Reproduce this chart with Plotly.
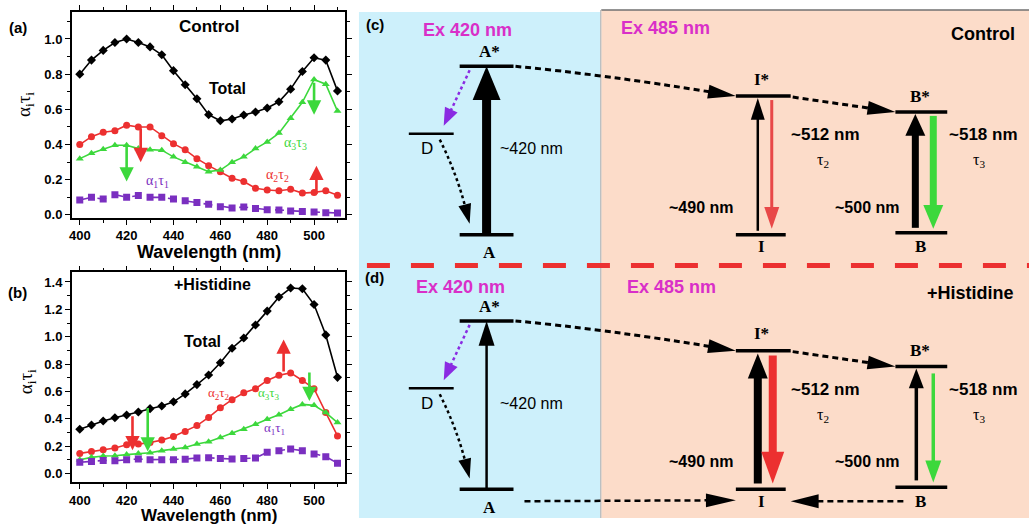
import math
import plotly.graph_objects as go

W, H = 1029, 528

# ---------------- data ----------------
wavelength = [400, 405, 410, 415, 420, 425, 430, 435, 440, 445, 450, 455,
              460, 465, 470, 475, 480, 485, 490, 495, 500, 505, 510]

ctrl_total = [0.80, 0.88, 0.935, 0.98, 1.00, 0.98, 0.955, 0.91, 0.82, 0.74, 0.66, 0.57,
              0.535, 0.545, 0.568, 0.585, 0.608, 0.643, 0.715, 0.815, 0.893, 0.88, 0.705]
ctrl_a2t2 = [0.40, 0.445, 0.47, 0.478, 0.51, 0.50, 0.50, 0.45, 0.405, 0.37, 0.32, 0.28,
             0.245, 0.208, 0.19, 0.152, 0.142, 0.137, 0.146, 0.124, 0.128, 0.137, 0.112]
ctrl_a3t3 = [0.32, 0.35, 0.373, 0.396, 0.396, 0.377, 0.371, 0.368, 0.33, 0.30, 0.274, 0.246,
             0.255, 0.30, 0.33, 0.377, 0.415, 0.465, 0.55, 0.64, 0.77, 0.743, 0.59]
ctrl_a1t1 = [0.085, 0.10, 0.09, 0.115, 0.10, 0.11, 0.10, 0.10, 0.09, 0.08, 0.07, 0.06,
             0.047, 0.04, 0.045, 0.037, 0.03, 0.028, 0.022, 0.02, 0.017, 0.013, 0.011]

his_total = [0.324, 0.355, 0.384, 0.408, 0.428, 0.45, 0.474, 0.493, 0.524, 0.582, 0.65, 0.72,
             0.81, 0.916, 0.99, 1.085, 1.187, 1.29, 1.356, 1.35, 1.235, 1.013, 0.703]
his_a2t2 = [0.147, 0.16, 0.174, 0.186, 0.21, 0.215, 0.227, 0.244, 0.27, 0.307, 0.35, 0.41,
            0.48, 0.54, 0.59, 0.62, 0.68, 0.718, 0.735, 0.68, 0.62, 0.445, 0.275]
his_a3t3 = [0.10, 0.118, 0.128, 0.13, 0.138, 0.147, 0.152, 0.167, 0.18, 0.19, 0.215, 0.232,
            0.263, 0.295, 0.324, 0.36, 0.397, 0.43, 0.47, 0.505, 0.498, 0.445, 0.372]
his_a1t1 = [0.082, 0.087, 0.095, 0.094, 0.101, 0.106, 0.101, 0.101, 0.101, 0.105, 0.114, 0.115,
            0.11, 0.106, 0.11, 0.113, 0.155, 0.167, 0.179, 0.167, 0.143, 0.123, 0.075]

# change arrows on the curves: (wavelength, tail value, head value, colour key)
ctrl_arrows = [(420, 0.40, 0.19, "g"), (426, 0.50, 0.30, "r"),
               (500, 0.76, 0.57, "g"), (501, 0.11, 0.28, "r")]
his_arrows = [(422.5, 0.43, 0.17, "r"), (429, 0.49, 0.16, "g"),
              (487, 0.735, 0.98, "r"), (498, 0.75, 0.53, "g")]

# ---------------- styles ----------------
SANS = "Liberation Sans, Arial, sans-serif"
SERIF = "Liberation Serif, Times New Roman, serif"
BLACK = "#000000"
RED = "#ec3030"
GREEN = "#3cd83c"
PURPLE = "#7a2fc0"
MAGENTA = "#d92fc8"
COL = {"r": RED, "g": GREEN}

fig = go.Figure()

series = [
    ("x", "y", ctrl_total, BLACK, "diamond"),
    ("x", "y", ctrl_a2t2, RED, "circle"),
    ("x", "y", ctrl_a3t3, GREEN, "triangle-up"),
    ("x", "y", ctrl_a1t1, PURPLE, "square"),
    ("x2", "y2", his_total, BLACK, "diamond"),
    ("x2", "y2", his_a2t2, RED, "circle"),
    ("x2", "y2", his_a3t3, GREEN, "triangle-up"),
    ("x2", "y2", his_a1t1, PURPLE, "square"),
]
for xa, ya, vals, col, sym in series:
    fig.add_trace(go.Scatter(
        x=wavelength, y=vals, xaxis=xa, yaxis=ya, mode="lines+markers",
        line=dict(color=col, width=1.6, dash="solid" if sym != "square" else "dash"),
        marker=dict(symbol=sym, size=7, color=col), showlegend=False, hoverinfo="skip"))


def px(x, y):
    return x / W, 1 - y / H


axis_common = dict(
    showline=True, linecolor="black", linewidth=1.5, mirror="allticks",
    ticks="outside", ticklen=5, tickwidth=1.3, tickcolor="black",
    showgrid=False, zeroline=False,
    tickfont=dict(family=SANS, size=13, color="black", weight="bold"),
)
fig.update_layout(
    width=W, height=H, autosize=False,
    margin=dict(l=0, r=0, t=0, b=0),
    paper_bgcolor="white", plot_bgcolor="white",
    xaxis=dict(domain=[69 / W, 343 / W], anchor="y", range=[396.6, 513.2],
               tick0=400, dtick=20, minor=dict(dtick=10, ticklen=3, ticks="outside"), **axis_common),
    yaxis=dict(domain=[1 - 220 / H, 1 - 12 / H], anchor="x", range=[-0.017, 1.154],
               tick0=0, dtick=0.2, tickformat=".1f",
               minor=dict(dtick=0.1, ticklen=3, ticks="outside"), **axis_common),
    xaxis2=dict(domain=[69 / W, 343 / W], anchor="y2", range=[396.6, 513.2],
                tick0=400, dtick=20, minor=dict(dtick=10, ticklen=3, ticks="outside"), **axis_common),
    yaxis2=dict(domain=[1 - 487 / H, 1 - 275 / H], anchor="x2", range=[-0.065, 1.47],
                tick0=0, dtick=0.2, tickformat=".1f",
                minor=dict(dtick=0.1, ticklen=3, ticks="outside"), **axis_common),
)

ann = []
shapes = []


def text(x, y, s, size=16, color="black", bold=True, family=SANS, angle=0, xanchor="center"):
    X, Y = px(x, y)
    ann.append(dict(x=X, y=Y, xref="paper", yref="paper", text=s, showarrow=False,
                    xanchor=xanchor, yanchor="middle", textangle=angle,
                    font=dict(family=family, size=size, color=color,
                              weight="bold" if bold else "normal")))


# ---- left panels text ----
text(15, 28, "(a)", 15)
text(15, 295, "(b)", 15)
text(207, 27, "Control", 17)
text(225, 89, "Total", 16)
text(210, 287, "+Histidine", 16)
text(200, 345, "Total", 16)
text(207, 254, "Wavelength (nm)", 18)
text(207, 520, "Wavelength (nm)", 17)
text(22, 105, "α<sub>i</sub>τ<sub>i</sub>", 19, family=SERIF, bold=False, angle=-90)
text(24, 385, "α<sub>i</sub>τ<sub>i</sub>", 19, family=SERIF, bold=False, angle=-90)
text(293, 145, "α<sub>3</sub>τ<sub>3</sub>", 14, GREEN, False, SERIF)
text(275, 177, "α<sub>2</sub>τ<sub>2</sub>", 14, RED, False, SERIF)
text(155, 183, "α<sub>1</sub>τ<sub>1</sub>", 14, PURPLE, False, SERIF)
text(217, 397, "α<sub>2</sub>τ<sub>2</sub>", 13, RED, False, SERIF)
text(267, 397, "α<sub>3</sub>τ<sub>3</sub>", 13, GREEN, False, SERIF)
text(272, 433, "α<sub>1</sub>τ<sub>1</sub>", 13, PURPLE, False, SERIF)

for arrows, xr, yr in ((ctrl_arrows, "x", "y"), (his_arrows, "x2", "y2")):
    for wl, tail, head, c in arrows:
        ann.append(dict(x=wl, y=head, ax=wl, ay=tail, xref=xr, yref=yr, axref=xr, ayref=yr,
                        showarrow=True, arrowhead=2, arrowsize=1.1, arrowwidth=2.6,
                        arrowcolor=COL[c], text=""))

# ---------------- diagram ----------------
def rect(x0, y0, x1, y1, fill):
    a, b = px(x0, y0)
    c, d = px(x1, y1)
    shapes.append(dict(type="rect", xref="paper", yref="paper", x0=a, y0=d, x1=c, y1=b,
                       fillcolor=fill, line=dict(width=0), layer="below"))


def line(x0, y0, x1, y1, w=3.5, color="black", dash="solid"):
    a, b = px(x0, y0)
    c, d = px(x1, y1)
    shapes.append(dict(type="line", xref="paper", yref="paper", x0=a, y0=b, x1=c, y1=d,
                       line=dict(color=color, width=w, dash=dash)))


def head(x1, y1, ux, uy, hl, hw, color):
    pxx, pyy = -uy, ux
    bx, by = x1 - ux * hl, y1 - uy * hl
    pts = [(x1, y1), (bx + pxx * hw / 2, by + pyy * hw / 2), (bx - pxx * hw / 2, by - pyy * hw / 2)]
    path = "M " + " L ".join("%.5f,%.5f" % px(x, y) for x, y in pts) + " Z"
    shapes.append(dict(type="path", xref="paper", yref="paper", path=path,
                       fillcolor=color, line=dict(width=0)))


def arrow(x0, y0, x1, y1, w, color, hl, hw, dash="solid"):
    dx, dy = x1 - x0, y1 - y0
    L = math.hypot(dx, dy)
    ux, uy = dx / L, dy / L
    line(x0, y0, x1 - ux * hl * 0.8, y1 - uy * hl * 0.8, w, color, dash)
    head(x1, y1, ux, uy, hl, hw, color)


def curve_arrow(x0, y0, cx, cy, x1, y1, w, color, hl, hw, dash):
    tx, ty = x1 - cx, y1 - cy
    L = math.hypot(tx, ty)
    ux, uy = tx / L, ty / L
    ex, ey = x1 - ux * hl * 0.8, y1 - uy * hl * 0.8
    path = "M %.5f,%.5f Q %.5f,%.5f %.5f,%.5f" % (*px(x0, y0), *px(cx, cy), *px(ex, ey))
    shapes.append(dict(type="path", xref="paper", yref="paper", path=path,
                       line=dict(color=color, width=w, dash=dash)))
    head(x1, y1, ux, uy, hl, hw, color)


BLUE_BG = "#cdf0fb"
PEACH_BG = "#fcdcc9"
rect(357, 12, 600, 523, BLUE_BG)
rect(600, 10, 1029, 523, PEACH_BG)
line(600, 10, 1029, 10, 1.5, "#707070")
line(599.5, 10, 599.5, 523, 1.2, "#b8b8b8")
line(365, 268, 1029, 268, 5, RED, "23px,21px")

DASH = "6px,4px"
DOT = "3px,3px"
VIOLET = "#8a2be2"

# panel offsets: (c) at 0, (d) at 257
for k, off in enumerate((0, 257)):
    o = off
    # levels
    line(458, 67 + o, 512, 67 + o)            # A*
    line(458, 237 + o, 512, 237 + o)          # A
    line(407, 135 + o, 452, 135 + o, 2.5)     # D
    line(735, 97 + o, 790, 97 + o)            # I*
    line(735, 237 + o, 785, 237 + o)          # I
    line(895, 113 + o, 947, 113 + o)          # B*
    line(895, 235 + o, 947, 235 + o)          # B

    text(488, 52 + o, "A*", 17, family=SERIF)
    text(488, 255 + o, "A", 17, family=SERIF)
    text(425, 150 + o, "D", 17, bold=False)
    text(761, 80 + o, "I*", 17, family=SERIF)
    text(761, 249 + o, "I", 17, family=SERIF)
    text(920, 97 + o, "B*", 17, family=SERIF)
    text(920, 249 + o, "B", 17, family=SERIF)

    text(530, 150 + o, "~420 nm", 16, bold=False)
    text(825, 136 + o, "~512 nm", 17)
    text(822, 162 + o, "τ<sub>2</sub>", 16, family=SERIF, bold=False)
    text(983, 136 + o, "~518 nm", 17)
    text(979, 162 + o, "τ<sub>3</sub>", 16, family=SERIF, bold=False)
    text(867, 209 + o, "~500 nm", 16)
    text(700, 209 + o, "~490 nm", 16)

    # dotted relaxation via D
    arrow(468, 71 + o, 442, 127 + o, 2.5, VIOLET, 18, 14, DOT)
    curve_arrow(438, 141 + o, 455, 175 + o, 468, 226 + o, 2.5, "black", 20, 13, DOT)
    # A* -> I*, I* -> B*
    curve_arrow(514, 67 + o, 600, 75 + o, 735, 97 + o, 3, "black", 28, 14, DASH)
    arrow(792, 98 + o, 895, 113 + o, 3, "black", 28, 14, DASH)

    if k == 0:
        arrow(485, 237, 485, 67, 9, "black", 34, 28)
        arrow(757, 233, 757, 99, 2.5, "black", 22, 14)
        arrow(771, 101, 771, 231, 3, "#e84848", 22, 15)
        arrow(915, 230, 915, 115, 7, "black", 22, 20)
        arrow(933, 117, 933, 231, 7, GREEN, 24, 20)
    else:
        arrow(485, 494, 485, 324, 2.5, "black", 25, 16)
        arrow(757, 488, 757, 357, 8, "black", 25, 20)
        arrow(772, 359, 772, 488, 8, RED, 32, 23)
        arrow(916, 485, 916, 372, 3.5, "black", 20, 15)
        arrow(933, 377, 933, 487, 3.5, GREEN, 22, 16)
        arrow(523, 506, 735, 505, 2.5, "black", 30, 14, DASH)
        arrow(903, 506, 790, 506, 2.5, "black", 28, 14, DASH)

text(373, 25, "(c)", 15)
text(373, 280, "(d)", 15)
text(466, 30, "Ex 420 nm", 18, MAGENTA)
text(664, 28, "Ex 485 nm", 18, MAGENTA)
text(459, 290, "Ex 420 nm", 18, MAGENTA)
text(670, 290, "Ex 485 nm", 18, MAGENTA)
text(983, 34, "Control", 18)
text(970, 296, "+Histidine", 18)

fig.update_layout(annotations=ann, shapes=shapes)
fig.write_html("out.html")
